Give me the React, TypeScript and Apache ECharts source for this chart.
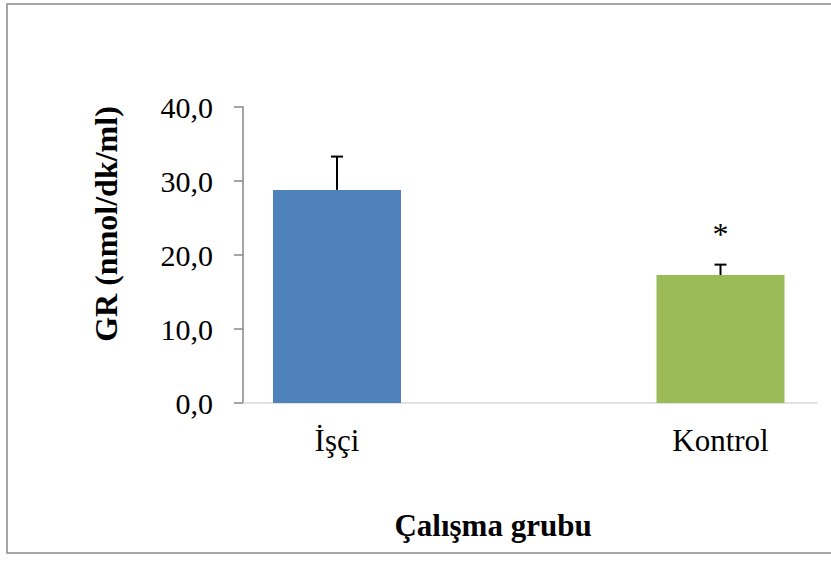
import React, { useEffect, useRef } from "react";
import * as echarts from "echarts";

const categories = ["İşçi", "Kontrol"];
const means = [28.8, 17.3];
const errors = [4.5, 1.4];
const significance = ["", "*"];
const barColors = ["#4F81BD", "#9BBB59"];
const yTicks = { min: 0, max: 40, interval: 10 };
const yTitle = "GR (nmol/dk/ml)";
const xTitle = "Çalışma grubu";

const FONT = "'Liberation Serif', 'Times New Roman', serif";

export default function App() {
  const ref = useRef<HTMLDivElement>(null);
  useEffect(() => {
    if (!ref.current) return;
    const chart = echarts.init(ref.current, null, { renderer: "svg" });
    const barData = means.map((m, i) => ({
      value: [i, m],
      itemStyle: { color: barColors[i] },
    }));
    const errData = means.map((m, i) => [i, m, errors[i], i]);
    chart.setOption({
      animation: false,
      backgroundColor: "#ffffff",
      grid: { left: 243, right: 14, top: 107, bottom: 158 },
      xAxis: {
        type: "value",
        min: -0.2451,
        max: 1.2516,
        splitLine: { show: false },
        axisLine: { show: true, onZero: false, lineStyle: { color: "#d9d9d9", width: 1.5 } },
        axisTick: { show: false },
        axisLabel: {
          customValues: [0, 1],
          formatter: (v: number) => categories[Math.round(v)] ?? "",
          fontFamily: FONT,
          fontSize: 31,
          color: "#000",
          margin: 22,
        },
      },
      yAxis: {
        type: "value",
        min: yTicks.min,
        max: yTicks.max,
        interval: yTicks.interval,
        splitLine: { show: false },
        axisLine: { show: true, onZero: false, lineStyle: { color: "#868686", width: 1.5 } },
        axisTick: { show: true, length: 9, lineStyle: { color: "#868686", width: 1.5 } },
        axisLabel: {
          formatter: (v: number) => v.toFixed(1).replace(".", ","),
          fontFamily: FONT,
          fontSize: 30,
          color: "#000",
          margin: 30,
        },
      },
      series: [
        {
          type: "bar",
          barWidth: 128,
          data: barData,
        },
        {
          type: "custom",
          data: errData,
          z: 5,
          renderItem: (params: any, api: any) => {
            const x = api.value(0);
            const m = api.value(1);
            const e = api.value(2);
            const idx = api.value(3);
            const base = api.coord([x, m]);
            const top = api.coord([x, m + e]);
            const children: any[] = [
              {
                type: "line",
                shape: { x1: base[0], y1: base[1], x2: top[0], y2: top[1] },
                style: { stroke: "#000", lineWidth: 2 },
              },
              {
                type: "line",
                shape: { x1: top[0] - 6, y1: top[1], x2: top[0] + 6, y2: top[1] },
                style: { stroke: "#000", lineWidth: 2 },
              },
            ];
            const sig = significance[idx];
            if (sig) {
              children.push({
                type: "text",
                x: top[0],
                y: top[1] - 31,
                style: {
                  text: sig,
                  fontFamily: FONT,
                  fontSize: 32,
                  fill: "#000",
                  align: "center",
                  verticalAlign: "middle",
                },
              });
            }
            return { type: "group", children };
          },
        },
      ],
      graphic: [
        {
          type: "rect",
          shape: { x: 7, y: 4, width: 830, height: 549 },
          style: { fill: "none", stroke: "#898989", lineWidth: 1.5 },
          silent: true,
        },
        {
          type: "text",
          x: 106,
          y: 224,
          rotation: Math.PI / 2,
          style: {
            text: yTitle,
            fontFamily: FONT,
            fontWeight: "bold",
            fontSize: 32,
            fill: "#000",
            align: "center",
            verticalAlign: "middle",
          },
        },
        {
          type: "text",
          x: 493,
          y: 525,
          style: {
            text: xTitle,
            fontFamily: FONT,
            fontWeight: "bold",
            fontSize: 31,
            fill: "#000",
            align: "center",
            verticalAlign: "middle",
          },
        },
      ],
    });
    return () => chart.dispose();
  }, []);
  return (
    <div
      ref={ref}
      style={{ position: "fixed", left: 0, top: 0, width: 831, height: 561 }}
    />
  );
}
